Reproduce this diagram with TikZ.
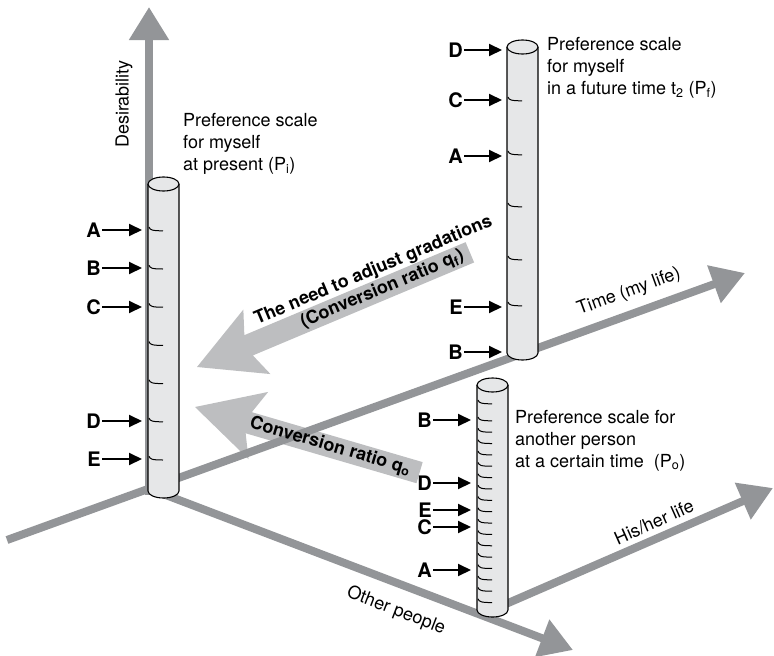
\documentclass[tikz,border=0pt]{standalone}
\usepackage{fontspec}
\setmainfont{TeX Gyre Heros}
\usetikzlibrary{arrows.meta}

\definecolor{axisgray}{RGB}{147,149,152}
\definecolor{arrowgray}{RGB}{189,190,192}
\definecolor{cylfill}{RGB}{230,231,232}

\tikzset{
  graxis/.style={draw=axisgray, line width=8pt, -{Triangle[length=33pt,width=38pt]}},
  cylline/.style={draw=black, line width=1.1pt},
  pointer/.style={line width=2pt, -{Triangle[length=13pt,width=12pt]}},
  letterlab/.style={font=\fontsize{20}{24}\selectfont\bfseries, inner sep=1pt, anchor=east},
  desc/.style={font=\fontsize{18}{22}\selectfont, align=left, inner sep=0pt, anchor=north west},
  axlabel/.style={font=\fontsize{18}{22}\selectfont, inner sep=0pt},
  arrowtxt/.style={font=\fontsize{18}{20}\selectfont\bfseries, inner sep=0pt, transform shape},
  qfframe/.style={shift={(197,367)}, rotate=22.8},
  qoframe/.style={shift={(195,407)}, rotate=-16.3}
}

% cylindre : centre x, haut y, bas y
\newcommand{\prefcyl}[3]{%
  \fill[cylfill] (#1-15.5,#2) -- (#1-15.5,#3)
    arc[start angle=180, end angle=0, x radius=15.5, y radius=7] -- (#1+15.5,#2) -- cycle;
  \draw[cylline] (#1-15.5,#2) -- (#1-15.5,#3)
    arc[start angle=180, end angle=0, x radius=15.5, y radius=7] -- (#1+15.5,#2);
  \filldraw[cylline, fill=cylfill] (#1,#2) ellipse[x radius=15.5, y radius=7];
}
% graduation : bord gauche x, hauteur y
\newcommand{\gradmark}[2]{%
  \draw[line width=1pt] (#1+1,#2-3) .. controls (#1+2,#2) and (#1+4,#2+0.8) .. (#1+15,#2+0.8);
}

\begin{document}
\begin{tikzpicture}[x=1pt, y=-1pt]
  \useasboundingbox (0,0) rectangle (774,656);

  % Les deux grandes fleches grises
  \fill[arrowgray, qfframe] (0,0) -- (65,-35) -- (56,-11) -- (296,-11)
    -- (296,11) -- (56,11) -- (65,35) -- cycle;
  \fill[arrowgray, qoframe] (0,0) -- (66,-35) -- (56,-11) -- (234,-11)
    -- (234,11) -- (56,11) -- (66,35) -- cycle;

  % Axes
  \draw[graxis] (7,540) -- (745,273);
  \draw[graxis] (149,495) -- (149,7);
  \draw[graxis] (150,489) -- (573,650);
  \draw[graxis] (492,610) -- (773,488);

  % Echelle P_i
  \prefcyl{163.5}{184}{491}
  \foreach \yy in {230,268.2,306.4,344.6,382.8,421,459.2}
    {\gradmark{148}{\yy}}
  % Echelle P_f
  \prefcyl{522.5}{47}{353}
  \foreach \yy in {100,154,206,259,305}
    {\gradmark{507}{\yy}}
  % Echelle P_o
  \prefcyl{492.5}{385}{610}
  \gradmark{477}{403}
  \foreach \k in {0,...,16}
    {\gradmark{477}{420+11.36*\k}}

  % Fleches des lettres
  \foreach \lab/\yy in {A/230, B/268, C/307, D/421, E/459} {
    \node[letterlab] (pi\lab) at (102,\yy) {\lab};
    \coordinate (pi\lab t) at (142,\yy);
    \draw[pointer] (pi\lab) -- (pi\lab t);
  }
  \foreach \lab/\yy in {D/50, C/100, A/156, E/307, B/352} {
    \node[letterlab] (pf\lab) at (464,\yy) {\lab};
    \coordinate (pf\lab t) at (502,\yy);
    \draw[pointer] (pf\lab) -- (pf\lab t);
  }
  \foreach \lab/\yy in {B/420, D/483, E/510, C/527, A/570} {
    \node[letterlab] (po\lab) at (433,\yy) {\lab};
    \coordinate (po\lab t) at (471,\yy);
    \draw[pointer] (po\lab) -- (po\lab t);
  }

  % Textes des echelles
  \node[desc] (descpi) at (183,113) {Preference scale\\for myself\\at present (P\textsubscript{i})};
  \node[desc] (descpf) at (547,37) {Preference scale\\for myself\\in a future time t\textsubscript{2} (P\textsubscript{f})};
  \node[desc] (descpo) at (515,410) {Preference scale for\\another person\\at a certain time~ (P\textsubscript{o})};

  % Noms des axes
  \node[axlabel, rotate=90] (desir) at (124,104) {Desirability};
  \node[axlabel, rotate=20] (timelab) at (629,292) {Time (my life)};
  \node[axlabel, rotate=24] (hislab) at (654,522) {His/her life};
  \node[axlabel, rotate=-21] (otherlab) at (396,611) {Other people};

  % Textes sur les grandes fleches
  \begin{scope}[qfframe]
    \node[arrowtxt] (qftop) at (200,-20.5) {The need to adjust gradations};
    \node[arrowtxt] (qfbot) at (201,0) {(Conversion ratio q\textsubscript{f})};
  \end{scope}
  \begin{scope}[qoframe]
    \node[arrowtxt] (qotxt) at (141,0) {Conversion ratio q\textsubscript{o}};
  \end{scope}
\end{tikzpicture}
\end{document}
